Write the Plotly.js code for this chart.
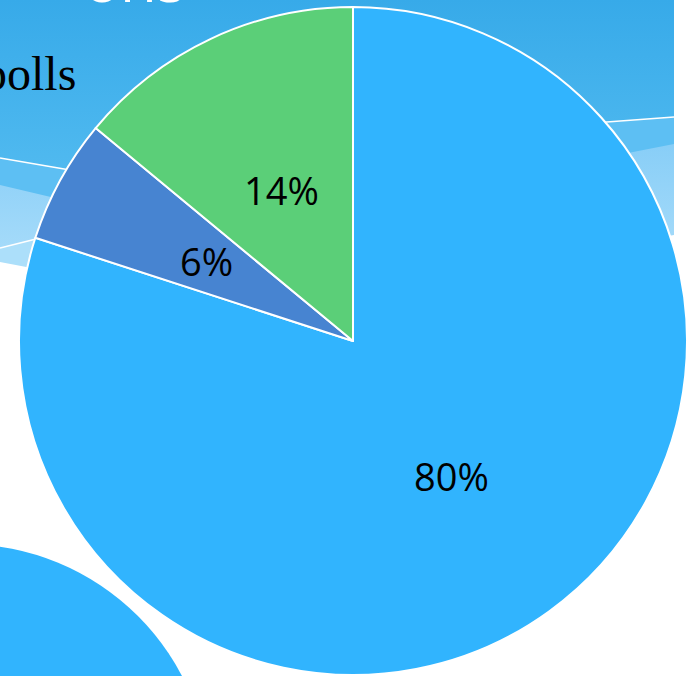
<!DOCTYPE html>
<html>
<head>
<meta charset="utf-8">
<script src="https://cdn.plot.ly/plotly-3.0.1.min.js"></script>
<style>
  html, body { margin: 0; padding: 0; background: #ffffff; overflow: hidden; }
  #wrap { position: relative; width: 687px; height: 676px; }
  #bg { position: absolute; left: 0; top: 0; }
  #chart { position: absolute; left: 0; top: 0; width: 687px; height: 676px; }
</style>
</head>
<body>
<div id="wrap">
  <svg id="bg" width="687" height="676" viewBox="0 0 687 676">
    <defs>
      <linearGradient id="hdr" x1="0" y1="0" x2="0" y2="1">
        <stop offset="0" stop-color="#37aae9"/>
        <stop offset="0.5" stop-color="#4ab6ee"/>
        <stop offset="1" stop-color="#5fc1f3"/>
      </linearGradient>
      <linearGradient id="band" x1="0" y1="0" x2="0" y2="1">
        <stop offset="0" stop-color="#88cef7"/>
        <stop offset="1" stop-color="#a8dcfa"/>
      </linearGradient>
    </defs>
    <polygon points="0,0 674,0 674,235 0,262" fill="url(#hdr)"/>
    <path d="M0,158 L70,170 L353,200 L600,123 L674,117 L674,235 L0,262 Z" fill="#5dbff3"/>
    <path d="M0,185 L55,198 L353,250 L628,153 L674,144 L674,235 L0,262 Z" fill="url(#band)"/>
    <path d="M0,248 L40,238 L200,300 L0,262 Z" fill="#acdffa"/>
    <path d="M0,158 L70,170" fill="none" stroke="#ffffff" stroke-width="1.5"/>
    <path d="M600,122.5 L674,117" fill="none" stroke="#ffffff" stroke-width="1.5"/>
    <path d="M0,248 L40,238" fill="none" stroke="#ffffff" stroke-width="1.5"/>
  </svg>
  <div id="chart"></div>
</div>
<script>
  // Data
  var labels = ["Segment A", "Segment B", "Segment C"];
  var values = [80, 6, 14];
  var colors = ["#31b4fe", "#4784d1", "#5bcf78"];

  var W = 687, H = 676;
  var pieDomainX = [19 / W, 1];
  var pieDomainY = [0, 670 / H];

  var trace = {
    type: "pie",
    labels: labels,
    values: values,
    sort: false,
    direction: "clockwise",
    rotation: 0,
    marker: { colors: colors, line: { color: "#ffffff", width: 2 } },
    textinfo: "none",
    hoverinfo: "label+percent",
    showlegend: false,
    domain: { x: pieDomainX, y: pieDomainY }
  };

  // percentage labels placed halfway along each slice's mid-angle
  var dwPx = (pieDomainX[1] - pieDomainX[0]) * W;
  var dhPx = (pieDomainY[1] - pieDomainY[0]) * H;
  var R = Math.min(dwPx, dhPx) / 2;
  var cxPx = (pieDomainX[0] + pieDomainX[1]) / 2 * W;
  var cyPx = (pieDomainY[0] + pieDomainY[1]) / 2 * H;
  var total = values.reduce(function (a, b) { return a + b; }, 0);
  var cum = 0;
  var pctAnnotations = values.map(function (v) {
    var mid = (cum + v / 2) / total;
    cum += v;
    var th = 2 * Math.PI * mid;
    return {
      text: Math.round(100 * v / total) + "%",
      xref: "paper", yref: "paper",
      x: (cxPx + 0.5 * R * Math.sin(th)) / W,
      y: (cyPx + 0.5 * R * Math.cos(th)) / H,
      xanchor: "center", yanchor: "middle", showarrow: false,
      font: { family: "Open Sans, sans-serif", size: 38, color: "#000000" }
    };
  });

  var layout = {
    width: W,
    height: H,
    margin: { l: 0, r: 0, t: 0, b: 0, pad: 0 },
    paper_bgcolor: "rgba(0,0,0,0)",
    plot_bgcolor: "rgba(0,0,0,0)",
    showlegend: false,
    shapes: [
      {
        type: "circle", xref: "paper", yref: "paper", layer: "below",
        x0: -282 / W, x1: 210 / W, y0: -360 / H, y1: 132 / H,
        fillcolor: "#31b4fe", line: { width: 0 }
      }
    ],
    annotations: [
      {
        text: "ons", xref: "paper", yref: "paper", x: 82 / W, y: (H - 21.5) / H,
        xanchor: "left", yanchor: "bottom", showarrow: false,
        font: { family: "Open Sans, sans-serif", size: 60, color: "#ffffff" }
      },
      {
        text: "polls", xref: "paper", yref: "paper", x: 78 / W, y: (H - 73) / H,
        xanchor: "right", yanchor: "middle", showarrow: false,
        font: { family: "Liberation Serif, serif", size: 48, color: "#000000" }
      }
    ].concat(pctAnnotations)
  };

  Plotly.newPlot("chart", [trace], layout, { displayModeBar: false, staticPlot: true });
</script>
</body>
</html>
